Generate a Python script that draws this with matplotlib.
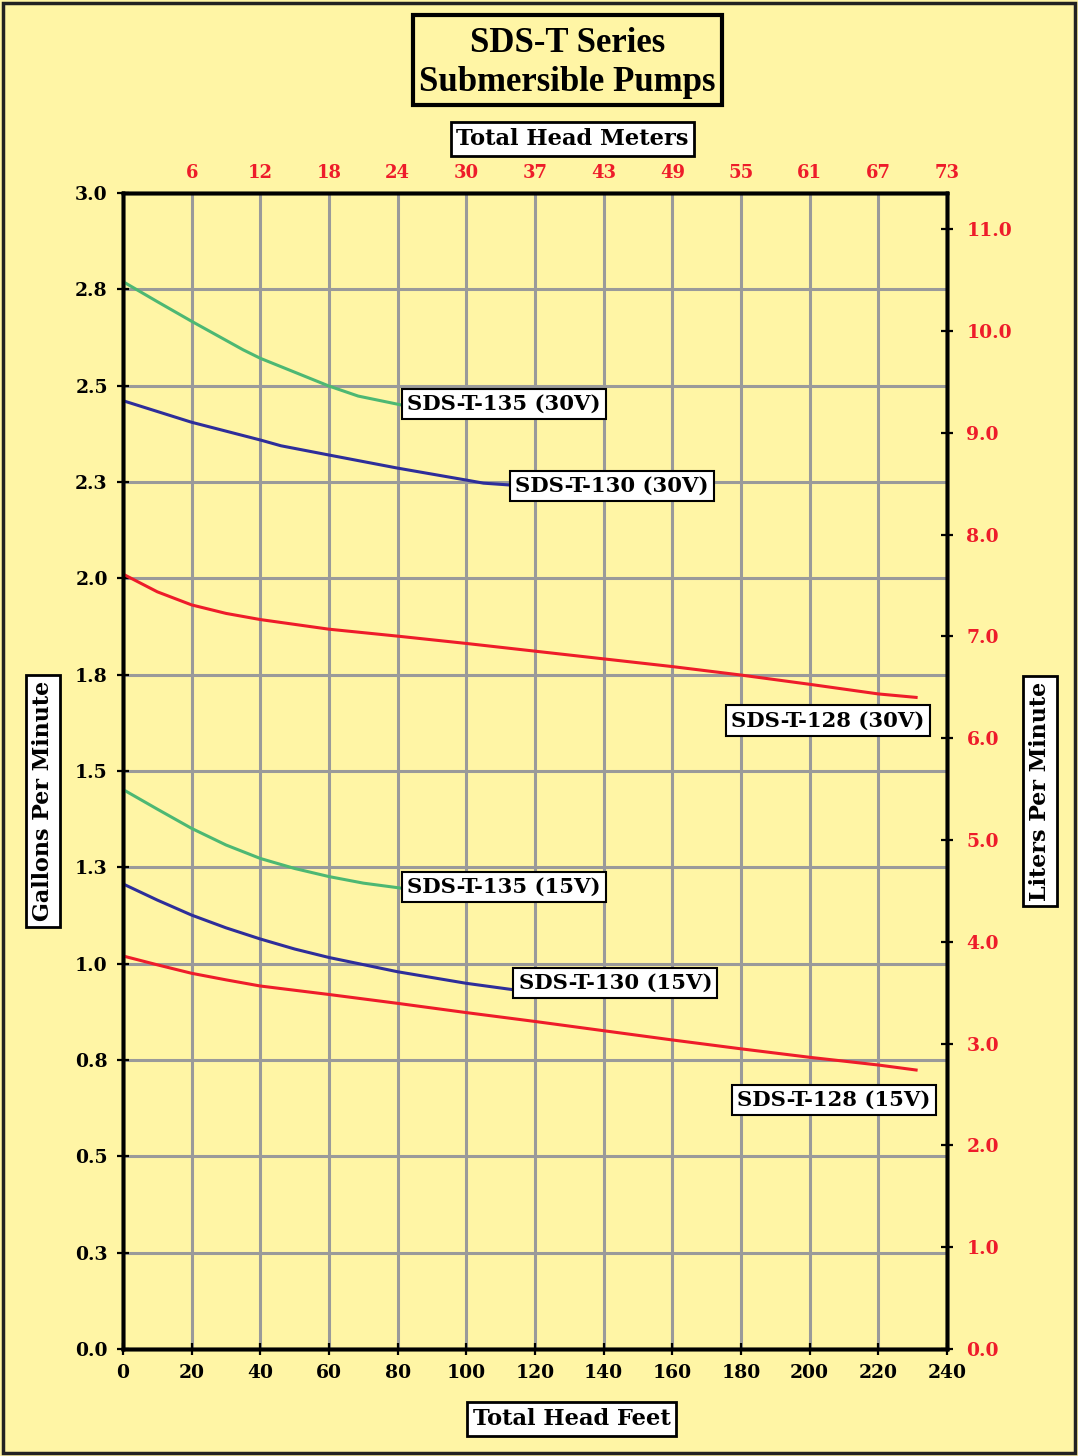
import numpy as np
import matplotlib
matplotlib.use("Agg")
import matplotlib.pyplot as plt
from matplotlib.patches import Rectangle

# ---------------- data ----------------
feet_135_30 = [0, 10, 20, 35, 40, 60, 68.5, 81]
gpm_135_30 = [2.770, 2.718, 2.667, 2.593, 2.571, 2.499, 2.473, 2.450]

feet_130_30 = [0, 10, 20, 40, 46, 60, 80, 100, 105, 113]
gpm_130_30 = [2.461, 2.433, 2.405, 2.359, 2.344, 2.320, 2.286, 2.255, 2.247, 2.242]

feet_128_30 = [0, 10, 20, 30, 40, 60, 80, 100, 120, 140, 160, 180, 200, 220, 231]
gpm_128_30 = [2.011, 1.965, 1.931, 1.909, 1.893, 1.868, 1.850, 1.831, 1.811,
              1.791, 1.771, 1.749, 1.725, 1.700, 1.691]

feet_135_15 = [0, 10, 20, 30, 40, 50, 60, 70, 81]
gpm_135_15 = [1.452, 1.401, 1.351, 1.308, 1.273, 1.247, 1.226, 1.209, 1.196]

feet_130_15 = [0, 10, 20, 30, 40, 50, 60, 80, 100, 114]
gpm_130_15 = [1.207, 1.165, 1.126, 1.093, 1.064, 1.038, 1.016, 0.979, 0.949, 0.932]

feet_128_15 = [0, 10, 20, 30, 40, 60, 80, 100, 120, 140, 160, 180, 200, 220, 231]
gpm_128_15 = [1.020, 0.997, 0.975, 0.958, 0.942, 0.920, 0.897, 0.873, 0.850,
              0.826, 0.802, 0.779, 0.757, 0.737, 0.724]

series_names = ["SDS-T-135 (30V)", "SDS-T-130 (30V)", "SDS-T-128 (30V)",
                "SDS-T-135 (15V)", "SDS-T-130 (15V)", "SDS-T-128 (15V)"]

x_ticks = list(range(0, 241, 20))
y_ticks = [0, 0.25, 0.5, 0.75, 1.0, 1.25, 1.5, 1.75, 2.0, 2.25, 2.5, 2.75, 3.0]
y_tick_labels = ["0.0", "0.3", "0.5", "0.8", "1.0", "1.3", "1.5", "1.8",
                 "2.0", "2.3", "2.5", "2.8", "3.0"]
lpm_ticks = list(range(0, 12))
lpm_tick_labels = ["%.1f" % v for v in lpm_ticks]
meter_ticks = list(range(20, 241, 20))
meter_tick_labels = ["6", "12", "18", "24", "30", "37", "43", "49", "55", "61", "67", "73"]

# ---------------- style ----------------
BG = "#FFF5A5"
GREEN = "#4DB873"
BLUE = "#2E2E9A"
RED = "#EE1C2A"
GRID = "#9A9A9A"
FONT = "DejaVu Serif"
W, H = 1078, 1456

fig = plt.figure(figsize=(10.78, 14.56), dpi=100, facecolor=BG)
ax = fig.add_axes([123 / W, 1 - 1349 / H, (947 - 123) / W, (1349 - 193) / H])
ax.set_facecolor(BG)
ax.set_xlim(0, 240)
ax.set_ylim(0, 3)
ax.set_axisbelow(True)
ax.grid(True, color=GRID, lw=2.2)

lw = 2.2
ax.plot(feet_135_30, gpm_135_30, color=GREEN, lw=lw, zorder=3)
ax.plot(feet_130_30, gpm_130_30, color=BLUE, lw=lw, zorder=3)
ax.plot(feet_128_30, gpm_128_30, color=RED, lw=lw, zorder=3)
ax.plot(feet_135_15, gpm_135_15, color=GREEN, lw=lw, zorder=3)
ax.plot(feet_130_15, gpm_130_15, color=BLUE, lw=lw, zorder=3)
ax.plot(feet_128_15, gpm_128_15, color=RED, lw=lw, zorder=3)

ax.set_xticks(x_ticks)
ax.set_xticklabels([str(v) for v in x_ticks])
ax.set_yticks(y_ticks)
ax.set_yticklabels(y_tick_labels)
ax.tick_params(axis="both", direction="inout", length=8, width=1.6, color="black",
               labelsize=13.5, pad=7)
for lab in ax.get_xticklabels() + ax.get_yticklabels():
    lab.set_fontfamily(FONT)
    lab.set_fontweight("bold")

for sp in ax.spines.values():
    sp.set_linewidth(2.5)
    sp.set_color("black")

# right axis (liters per minute)
ax2 = ax.twinx()
ax2.set_ylim(0, 3 * 3.78541)
ax2.set_yticks(lpm_ticks)
ax2.set_yticklabels(lpm_tick_labels)
ax2.tick_params(axis="y", direction="inout", length=8, width=1.6, color="black",
                labelsize=13.5, labelcolor=RED, pad=10)
for lab in ax2.get_yticklabels():
    lab.set_fontfamily(FONT)
    lab.set_fontweight("bold")
for sp in ax2.spines.values():
    sp.set_linewidth(2.5)

# top axis (meters)
ax3 = ax.twiny()
ax3.set_xlim(0, 240)
ax3.set_xticks(meter_ticks)
ax3.set_xticklabels(meter_tick_labels)
ax3.tick_params(axis="x", length=0, labelsize=13, labelcolor=RED, pad=8)
for lab in ax3.get_xticklabels():
    lab.set_fontfamily(FONT)
    lab.set_fontweight("bold")
for sp in ax3.spines.values():
    sp.set_linewidth(2.5)

# series labels
label_pos = [(82.8, 2.452), (114.3, 2.240), (177.2, 1.631),
             (82.8, 1.199), (115.2, 0.950), (178.9, 0.646)]
for name, (lx, ly) in zip(series_names, label_pos):
    ax.text(lx, ly, name, ha="left", va="center", fontsize=15.2, fontfamily=FONT,
            fontweight="bold", color="black", zorder=5,
            bbox=dict(boxstyle="square,pad=0.25", facecolor="white",
                      edgecolor="black", lw=1.5))

# title box
fig.patches.append(Rectangle((413 / W, 1 - 105 / H), (722 - 413) / W, 90 / H,
                             transform=fig.transFigure, facecolor=BG,
                             edgecolor="black", lw=3, zorder=4))
fig.text(567.5 / W, 1 - 63 / H, "SDS-T Series\nSubmersible Pumps",
         ha="center", va="center", fontsize=25, fontfamily="Liberation Serif",
         fontweight="bold", linespacing=1.25, zorder=5)

box = dict(boxstyle="square,pad=0.25", facecolor="white", edgecolor="black", lw=2)
fig.text(572.5 / W, 1 - 139 / H, "Total Head Meters", ha="center", va="center",
         fontsize=16.2, fontfamily=FONT, fontweight="bold", bbox=box)
fig.text(571.5 / W, 1 - 1419 / H, "Total Head Feet", ha="center", va="center",
         fontsize=16.2, fontfamily=FONT, fontweight="bold", bbox=box)
fig.text(43 / W, 1 - 801 / H, "Gallons Per Minute", ha="center", va="center",
         rotation=90, fontsize=16, fontfamily=FONT, fontweight="bold", bbox=box)
fig.text(1040 / W, 1 - 791 / H, "Liters Per Minute", ha="center", va="center",
         rotation=90, fontsize=16, fontfamily=FONT, fontweight="bold", bbox=box)

# outer frame
fig.patches.append(Rectangle((3 / W, 3 / H), 1072 / W, 1450 / H,
                             transform=fig.transFigure, fill=False,
                             edgecolor="#222222", lw=2.5))

fig.savefig("out.png", dpi=100, facecolor=BG)
